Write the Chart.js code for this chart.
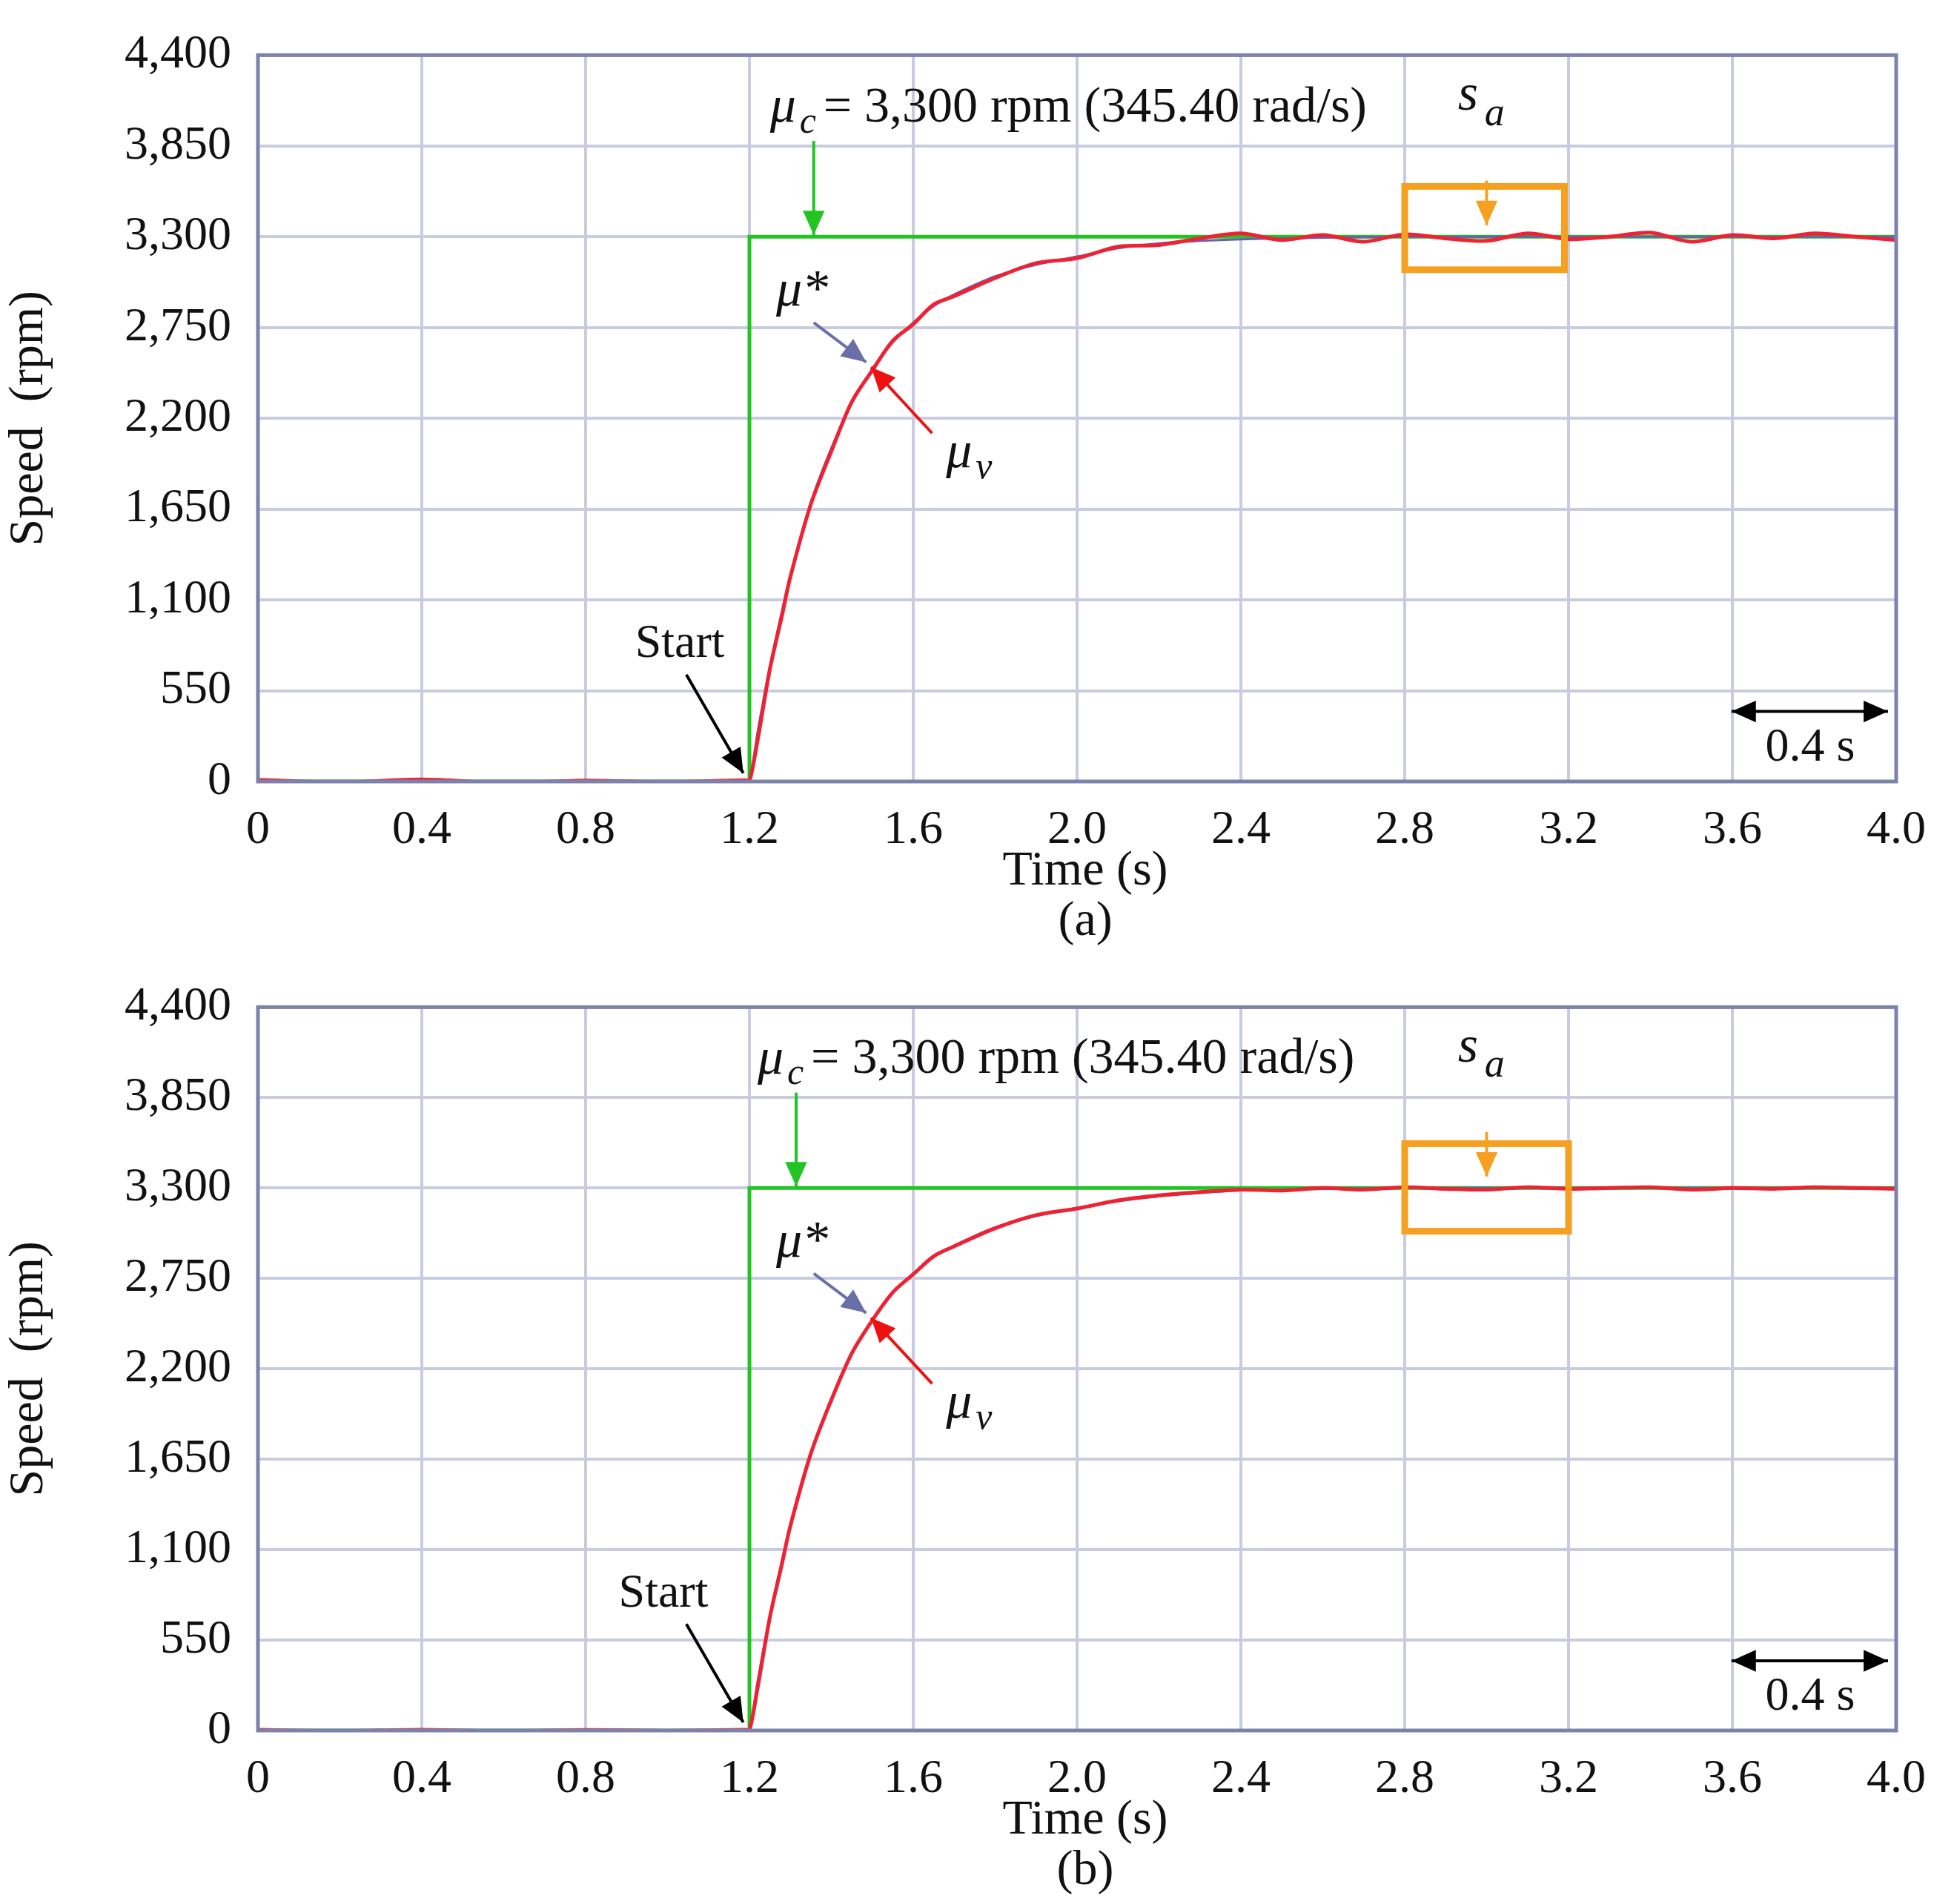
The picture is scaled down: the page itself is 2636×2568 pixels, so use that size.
<!DOCTYPE html>
<html><head><meta charset="utf-8">
<script src="https://cdn.jsdelivr.net/npm/chart.js@4.4.0/dist/chart.umd.min.js"></script>
<style>
body{margin:0;background:#fff;width:2636px;height:2568px;overflow:hidden}
canvas{display:block}
</style></head>
<body>
<canvas id="chartA" width="2636" height="1284"></canvas>
<canvas id="chartB" width="2636" height="1284"></canvas>
<script>
// time axis shared by both panels (s)
const timePts = [0,0.2,0.4,0.6,0.8,1.0,1.19,1.2,1.22,1.25,1.28,1.3,1.35,1.4,1.45,1.5,1.55,1.6,1.65,1.7,1.8,1.9,2.0,2.1,2.2,2.3,2.4,2.5,2.6,2.7,2.8,2.9,3.0,3.1,3.2,3.3,3.4,3.5,3.6,3.7,3.8,3.9,4.0];
// commanded speed step (green)
const stepTime = [0,1.2,1.2,4.0];
const stepSpeed = [0,0,3300,3300];
// panel (a)
const refA  = [0,0,0,0,0,0,0,0,300,700,1040,1250,1690,2020,2290,2500,2660,2780,2880,2950,3060,3130,3180,3230,3260,3275,3285,3290,3295,3298,3300,3300,3300,3300,3300,3300,3300,3300,3300,3300,3300,3300,3300];
const measA = [10,-5,12,-8,6,-4,8,0,250,680,1010,1240,1680,2000,2300,2490,2670,2770,2890,2940,3050,3140,3170,3240,3250,3290,3320,3280,3310,3270,3315,3290,3275,3320,3285,3300,3325,3270,3310,3290,3320,3300,3280];
// panel (b)
const refB  = [0,0,0,0,0,0,0,0,300,700,1040,1250,1690,2020,2290,2500,2660,2780,2880,2950,3060,3130,3180,3220,3250,3270,3285,3290,3295,3298,3300,3300,3300,3300,3300,3300,3300,3300,3300,3300,3300,3300,3300];
const measB = [4,-3,5,-4,3,-2,4,0,260,690,1020,1245,1685,2010,2295,2495,2665,2775,2885,2945,3055,3135,3175,3225,3255,3275,3290,3285,3300,3290,3305,3295,3290,3305,3295,3300,3305,3290,3300,3295,3305,3300,3295];
const xTicks = [0,0.4,0.8,1.2,1.6,2.0,2.4,2.8,3.2,3.6,4.0];
const yTicks = [0,550,1100,1650,2200,2750,3300,3850,4400];

const SERIF = '"Liberation Serif","DejaVu Serif",serif';

function arrow(ctx, x1,y1,x2,y2,color,both){
  ctx.save();
  ctx.strokeStyle=color; ctx.fillStyle=color; ctx.lineWidth=4;
  ctx.beginPath(); ctx.moveTo(x1,y1); ctx.lineTo(x2,y2); ctx.stroke();
  const head=(xa,ya,xb,yb)=>{
    const a=Math.atan2(yb-ya,xb-xa), L=36, W=0.42;
    ctx.beginPath(); ctx.moveTo(xb,yb);
    ctx.lineTo(xb-L*Math.cos(a-W),yb-L*Math.sin(a-W));
    ctx.lineTo(xb-L*Math.cos(a+W),yb-L*Math.sin(a+W));
    ctx.closePath(); ctx.fill();
  };
  head(x1,y1,x2,y2); if(both) head(x2,y2,x1,y1);
  ctx.restore();
}

function makeNotes(n){
  return {
    id:'notes',
    afterDraw(chart){
      const ctx=chart.ctx, x=chart.scales.x, y=chart.scales.y;
      const X=v=>x.getPixelForValue(v), Y=v=>y.getPixelForValue(v);
      ctx.save();
      ctx.strokeStyle='#7d82ad'; ctx.lineWidth=5;
      ctx.strokeRect(chart.chartArea.left,chart.chartArea.top,chart.chartArea.width,chart.chartArea.height);
      ctx.textBaseline='middle';
      // mu_c label
      ctx.fillStyle='#111'; ctx.textAlign='left';
      let tx=X(n.muc), ty=Y(4080);
      ctx.font='italic 70px '+SERIF; ctx.fillText('μ',tx,ty);
      ctx.font='italic 50px '+SERIF; ctx.fillText('c',tx+40,ty+20);
      ctx.font='68px '+SERIF; ctx.fillText('= 3,300 rpm (345.40 rad/s)',tx+72,ty);
      arrow(ctx,X(n.gx),Y(3880),X(n.gx),Y(3310),'#22c322');
      // s_a
      ctx.fillStyle='#111';
      ctx.font='italic 70px '+SERIF; ctx.fillText('s',X(2.93),Y(4150));
      ctx.font='italic 54px '+SERIF; ctx.fillText('a',X(2.93)+36,Y(4040));
      arrow(ctx,X(3.0),Y(3640),X(3.0),Y(3370),'#f5a020');
      ctx.strokeStyle='#f5a020'; ctx.lineWidth=9;
      ctx.strokeRect(X(2.8),Y(n.boxTop),X(n.boxR)-X(2.8),Y(n.boxBot)-Y(n.boxTop));
      // mu*
      ctx.fillStyle='#111'; ctx.font='italic 70px '+SERIF; ctx.fillText('μ*',X(1.265),Y(2965));
      arrow(ctx,X(1.357),Y(2780),X(1.485),Y(2540),'#6a6fa8');
      // mu_v
      ctx.fillStyle='#111'; ctx.font='italic 70px '+SERIF; ctx.fillText('μ',X(1.68),Y(1985));
      ctx.font='italic 50px '+SERIF; ctx.fillText('v',X(1.68)+40,Y(1985)+20);
      arrow(ctx,X(1.646),Y(2110),X(1.497),Y(2510),'#ee1111');
      // Start
      ctx.fillStyle='#111'; ctx.font='64px '+SERIF; ctx.textAlign='center';
      ctx.fillText('Start',X(n.start),Y(n.startY));
      arrow(ctx,X(1.046),Y(647),X(1.185),Y(50),'#000');
      // 0.4 s scale bar
      arrow(ctx,X(3.598),Y(424),X(3.98),Y(424),'#000',true);
      ctx.fillStyle='#111'; ctx.font='64px '+SERIF; ctx.fillText('0.4 s',X(3.79),Y(200));
      // x title and panel label
      ctx.font='66px '+SERIF;
      ctx.fillText('Time (s)',X(2.02),chart.chartArea.bottom+122);
      ctx.fillText(n.label,X(2.02),chart.chartArea.bottom+190);
      ctx.restore();
    }
  };
}

function pts(xs,ys){ return xs.map((t,i)=>({x:t,y:ys[i]})); }

function buildChart(id, refS, measS, notes, top){
  return new Chart(document.getElementById(id),{
    type:'line',
    data:{datasets:[
      {data:pts(timePts,measS),borderColor:'#ee2233',borderWidth:5,pointRadius:0,tension:0.3},
      {data:pts(timePts,refS),borderColor:'#6a5fb0',borderWidth:3,pointRadius:0,tension:0.3},
      {data:pts(stepTime,stepSpeed),borderColor:'#22c322',borderWidth:5,pointRadius:0,tension:0}
    ]},
    options:{
      responsive:false, animation:false, devicePixelRatio:1,
      layout:{padding:{top:top,right:78,left:0,bottom:0}},
      plugins:{legend:{display:false},tooltip:{enabled:false}},
      scales:{
        x:{type:'linear',min:0,max:4,
          afterBuildTicks:a=>{a.ticks=xTicks.map(v=>({value:v}));},
          afterFit:a=>{a.height=1284-top-1006;},
          grid:{color:'#c9cce0',lineWidth:4,drawTicks:false},border:{display:false},
          ticks:{padding:28,color:'#111',font:{family:SERIF,size:64},maxRotation:0,
            callback:v=>v===0?'0':v.toFixed(1)}},
        y:{min:0,max:4400,
          afterBuildTicks:a=>{a.ticks=yTicks.map(v=>({value:v}));},
          afterFit:a=>{a.width=348;},
          grid:{color:'#c9cce0',lineWidth:4,drawTicks:false},border:{display:false},
          title:{display:true,text:'Speed  (rpm)',color:'#111',font:{family:SERIF,size:66},padding:{top:0,bottom:10}},
          ticks:{padding:36,color:'#111',font:{family:SERIF,size:64},
            callback:v=>v.toLocaleString('en-US')}}
      }
    },
    plugins:[makeNotes(notes)]
  });
}

buildChart('chartA',refA,measA,{muc:1.25,gx:1.357,boxTop:3605,boxBot:3100,boxR:3.19,start:1.03,startY:830,label:'(a)'},48);
buildChart('chartB',refB,measB,{muc:1.22,gx:1.314,boxTop:3570,boxBot:3037,boxR:3.2,start:0.99,startY:830,label:'(b)'},44);
</script>
</body></html>
